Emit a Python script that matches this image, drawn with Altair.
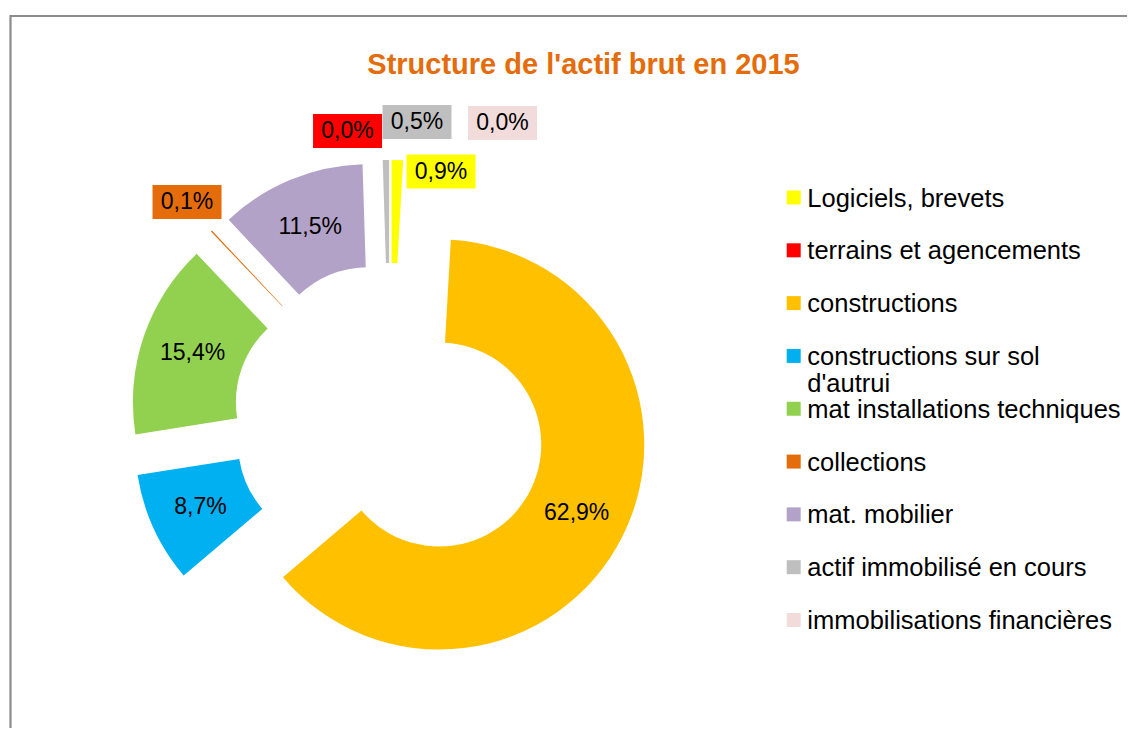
import math
import numpy as np
import pandas as pd
import altair as alt

# ---------------- data ----------------
categories = [
    "Logiciels, brevets",
    "terrains et agencements",
    "constructions",
    "constructions sur sol d'autrui",
    "mat installations techniques",
    "collections",
    "mat. mobilier",
    "actif immobilisé en cours",
    "immobilisations financières",
]
values = [0.9, 0.0, 62.9, 8.7, 15.4, 0.1, 11.5, 0.5, 0.0]
legend_text = [
    "Logiciels, brevets",
    "terrains et agencements",
    "constructions",
    "constructions sur sol\nd'autrui",
    "mat installations techniques",
    "collections",
    "mat. mobilier",
    "actif immobilisé en cours",
    "immobilisations financières",
]
colors = ["#FFFF00", "#FF0000", "#FFC000", "#00B0F0", "#92D050",
          "#E46C0A", "#B3A2C7", "#BFBFBF", "#F2DCDB"]
title = "Structure de l'actif brut en 2015"

# ---------------- layout / style ----------------
W, H = 1119, 720
CX, CY = 382, 412          # donut centre (plot px)
U = 205.0                  # unit radius = outer radius
R_OUT, R_IN = 205, 102
EXPLODE = 55
LABEL_IN_R = 208.5
LABEL_OUT_R = 298
BOX_W, BOX_H = 69, 34
FONT = "Liberation Sans, Arial, sans-serif"
# nudges (px) for the small-slice labels, as Excel placed them
nudges = {
    "Logiciels, brevets": (42.6, 49.4),
    "terrains et agencements": (-59.3, 8.5),
    "actif immobilisé en cours": (31.7, 0.0),
    "immobilisations financières": (112.5, 1.0),
    "collections": (1.7, -1.4),
}

# ---------------- derived ----------------
df = pd.DataFrame({"cat": categories, "value": values})
df["end"] = df["value"].cumsum()
df["start"] = df["end"] - df["value"]
mid = (df["start"] + df["value"] / 2) / 100 * 2 * np.pi
df["ax"] = EXPLODE / U * np.sin(mid)
df["ay"] = -EXPLODE / U * np.cos(mid)
df["label"] = df["value"].map(lambda v: f"{v:.1f}".replace(".", ",") + "%")
inside = df["value"] >= 5
df["inside"] = inside
lr = np.where(inside, LABEL_IN_R, LABEL_OUT_R) / U
nx = df["cat"].map(lambda c: nudges.get(c, (0, 0))[0])
ny = df["cat"].map(lambda c: nudges.get(c, (0, 0))[1])
df["lx"] = lr * np.sin(mid) + nx / U
df["ly"] = -lr * np.cos(mid) + ny / U
df["bx1"] = df["lx"] - BOX_W / 2 / U
df["bx2"] = df["lx"] + BOX_W / 2 / U
df["by1"] = df["ly"] - BOX_H / 2 / U
df["by2"] = df["ly"] + BOX_H / 2 / U

xs = alt.Scale(domain=[-1, 1], range=[CX - U, CX + U])
ys = alt.Scale(domain=[-1, 1], range=[CY - U, CY + U])
ts = alt.Scale(domain=[0, 100], range=[0, 2 * math.pi])
cs = alt.Scale(domain=categories, range=colors)

base = alt.Chart(df)

arcs = base.mark_arc(radius=R_OUT, radius2=R_IN).encode(
    x=alt.X("ax:Q", scale=xs, axis=None),
    y=alt.Y("ay:Q", scale=ys, axis=None),
    theta=alt.Theta("start:Q", scale=ts, stack=False),
    theta2=alt.Theta2("end:Q"),
    color=alt.Color("cat:N", scale=cs, legend=None),
)

boxes = base.transform_filter("!datum.inside").mark_rect().encode(
    x=alt.X("bx1:Q", scale=xs, axis=None),
    x2="bx2:Q",
    y=alt.Y("by1:Q", scale=ys, axis=None),
    y2="by2:Q",
    color=alt.Color("cat:N", scale=cs, legend=None),
)

labels = base.mark_text(font=FONT, fontSize=23, color="#000000",
                        align="center", baseline="middle").encode(
    x=alt.X("lx:Q", scale=xs, axis=None),
    y=alt.Y("ly:Q", scale=ys, axis=None),
    text="label:N",
)

leg_df = pd.DataFrame({"cat": categories, "txt": legend_text})
ls = alt.Scale(domain=categories, range=[189.5, 612], padding=0)
leg_sq = alt.Chart(leg_df).mark_square(size=196, opacity=1).encode(
    x=alt.value(785.7),
    y=alt.Y("cat:N", sort=categories, scale=ls, axis=None),
    color=alt.Color("cat:N", scale=cs, legend=None),
)
leg_txt = alt.Chart(leg_df).mark_text(
    font=FONT, fontSize=25.5, color="#000000", align="left",
    baseline="alphabetic", dy=9, lineBreak="\n", lineHeight=27,
).encode(
    x=alt.value(799.3),
    y=alt.Y("cat:N", sort=categories, scale=ls, axis=None),
    text="txt:N",
)

title_layer = alt.Chart(pd.DataFrame({"t": [title]})).mark_text(
    font=FONT, fontSize=29, fontWeight="bold", color="#E46C0A",
    align="center", baseline="alphabetic",
).encode(x=alt.value(575.5), y=alt.value(66), text="t:N")

border = alt.Chart(pd.DataFrame({"a": [0]})).mark_rect(
    fillOpacity=0, stroke="#8C8C8C", strokeWidth=2.2,
).encode(x=alt.value(2.5), y=alt.value(8), x2=alt.value(1400), y2=alt.value(1000))

chart = alt.layer(border, arcs, boxes, labels, leg_sq, leg_txt, title_layer).resolve_scale(
    x="independent", y="independent"
).properties(
    width=W, height=H, padding=0,
    autosize=alt.AutoSizeParams(type="none"),
    background="#FFFFFF",
).configure_view(strokeWidth=0)

chart.save("out.html", embed_options={"renderer": "svg", "actions": False})
